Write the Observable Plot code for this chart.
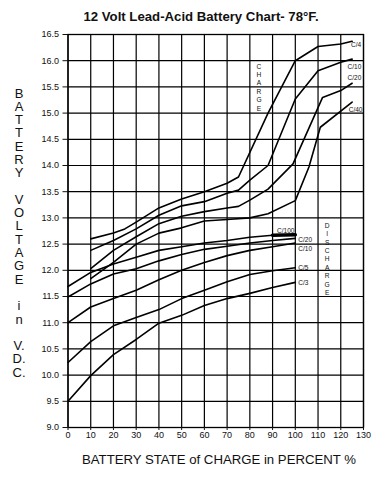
<!DOCTYPE html>
<html><head><meta charset="utf-8">
<script src="https://cdn.jsdelivr.net/npm/d3@7"></script>
<script src="https://cdn.jsdelivr.net/npm/@observablehq/plot@0.6"></script>
<style>
body{margin:0;background:#fff;font-family:"Liberation Sans",Arial,sans-serif;color:#111}
#wrap{position:relative;width:383px;height:480px;overflow:hidden}
#chart{position:absolute;left:0;top:0}
#title{position:absolute;left:201px;top:9.5px;transform:translateX(-50%);font-weight:bold;font-size:13.2px;line-height:13.2px;white-space:nowrap}
#ylab{position:absolute;left:19px;top:86.5px;transform:translateX(-50%);font-size:13px;line-height:13.3px;text-align:center;white-space:pre}
#xlab{position:absolute;left:219px;top:453px;transform:translateX(-50%);font-size:13.2px;line-height:13.2px;white-space:nowrap}
</style></head>
<body><div id="wrap">
<div id="chart"></div>
<div id="title"></div>
<div id="ylab"></div>
<div id="xlab"></div>
</div>
<script>
// ---- text ----
const titleText = "12 Volt Lead-Acid Battery Chart- 78°F.";
const xTitle = "BATTERY STATE of CHARGE in PERCENT %";
const yTitleLines = ["B","A","T","T","E","R","Y","","V","O","L","T","A","G","E","","i","n","","V.","D.","C."];

// ---- ticks ----
const xTicks = [0,10,20,30,40,50,60,70,80,90,100,110,120,130];
const yTicks = [9.0,9.5,10.0,10.5,11.0,11.5,12.0,12.5,13.0,13.5,14.0,14.5,15.0,15.5,16.0,16.5];

// ---- charge curves [state of charge %, volts] ----
const chargeC4  = [[10,12.6],[20,12.71],[25,12.79],[30,12.92],[40,13.19],[50,13.36],[60,13.5],[70,13.66],[75,13.78],[88,15.0],[100,16.0],[110,16.27],[120,16.32],[125,16.37]];
const chargeC10 = [[10,12.38],[20,12.57],[30,12.79],[40,13.05],[50,13.23],[60,13.31],[70,13.47],[75,13.53],[80,13.72],[88,14.0],[100,15.27],[110,15.81],[120,15.97],[125,16.03]];
const chargeC20 = [[10,12.03],[20,12.38],[30,12.64],[40,12.89],[50,13.03],[60,13.12],[70,13.19],[75,13.22],[80,13.34],[88,13.55],[99,14.03],[112,15.3],[120,15.43],[125,15.57]];
const chargeC40 = [[10,11.84],[20,12.15],[30,12.5],[40,12.71],[50,12.81],[60,12.94],[70,12.97],[80,13.0],[88,13.08],[100,13.33],[106,13.97],[111,14.73],[125,15.21]];

// ---- discharge curves ----
const dischC100 = [[0,11.69],[10,11.96],[20,12.12],[30,12.25],[40,12.38],[50,12.45],[60,12.52],[70,12.57],[80,12.63],[90,12.67],[100,12.68]];
const dischC20  = [[0,11.49],[10,11.74],[20,11.93],[30,12.03],[40,12.18],[50,12.3],[60,12.4],[70,12.46],[80,12.52],[90,12.57],[100,12.61]];
const dischC10  = [[0,11.0],[10,11.3],[20,11.46],[30,11.62],[40,11.82],[50,12.0],[60,12.15],[70,12.28],[80,12.38],[90,12.45],[100,12.52]];
const dischC5   = [[0,10.24],[10,10.64],[20,10.94],[30,11.1],[40,11.25],[50,11.46],[60,11.62],[70,11.78],[80,11.92],[90,11.99],[100,12.05]];
const dischC3   = [[0,9.5],[10,9.99],[20,10.39],[30,10.68],[40,10.99],[50,11.14],[60,11.33],[70,11.46],[80,11.56],[90,11.67],[100,11.77]];

// ---- curve labels [text, soc, volts] ----
const curveLabels = [["C/4",124.5,16.31],["C/10",123,15.89],["C/20",123,15.67],["C/40",123.5,15.07],
  ["C/100",92,12.76],["C/20",101.3,12.58],["C/10",101.3,12.41],["C/5",101.3,12.04],["C/3",101.3,11.75]];
const groupLabels = [["CHARGE",84,15.5],["DISCHARGE",114,12.22]];

const series = [["cC4",chargeC4],["cC10",chargeC10],["cC20",chargeC20],["cC40",chargeC40],
  ["dC100",dischC100],["dC20",dischC20],["dC10",dischC10],["dC5",dischC5],["dC3",dischC3]];
const rows = series.flatMap(([id,pts]) => pts.map(([s,v]) => ({id, soc:s, v})));
const barRows = dischC100.filter(([s]) => s >= 90).map(([s,v]) => ({soc:s, v}));
const lab = curveLabels.map(([t,s,v]) => ({t,s,v}));
const glab = groupLabels.map(([t,s,v]) => ({t: t.split("").join("\n"), s, v}));

document.getElementById("title").textContent = titleText;
document.getElementById("xlab").textContent = xTitle;
document.getElementById("ylab").textContent = yTitleLines.join("\n");

const ff = "'Liberation Sans', Arial, sans-serif";
const chart = Plot.plot({
  width: 383, height: 480,
  marginLeft: 67.5, marginRight: 20, marginTop: 34, marginBottom: 53,
  style: {fontFamily: ff, background: "white", color: "#111"},
  x: {domain: [0,130]},
  y: {domain: [9,16.5]},
  marks: [
    Plot.gridX(xTicks, {stroke: "#000", strokeOpacity: 1, strokeWidth: 1.2}),
    Plot.gridY(yTicks, {stroke: "#000", strokeOpacity: 1, strokeWidth: 1.2}),
    Plot.frame({stroke: "#000", strokeWidth: 1.3}),
    Plot.axisX(xTicks, {tickSize: 3, tickPadding: 1, fontSize: 9, label: null}),
    Plot.axisY(yTicks, {tickSize: 5, tickPadding: 4, fontSize: 9, label: null, tickFormat: d => d.toFixed(1)}),
    Plot.line(rows, {x: "soc", y: "v", z: "id", stroke: "#000", strokeWidth: 1.6}),
    Plot.line(barRows, {x: "soc", y: "v", stroke: "#000", strokeWidth: 3.5}),
    Plot.text(lab, {x: "s", y: "v", text: "t", textAnchor: "start", fontSize: 6.5, fill: "#111"}),
    Plot.text(glab, {x: "s", y: "v", text: "t", fontSize: 6.6, lineHeight: 1.27, fill: "#111"})
  ]
});
document.getElementById("chart").appendChild(chart);
</script>
</body></html>
